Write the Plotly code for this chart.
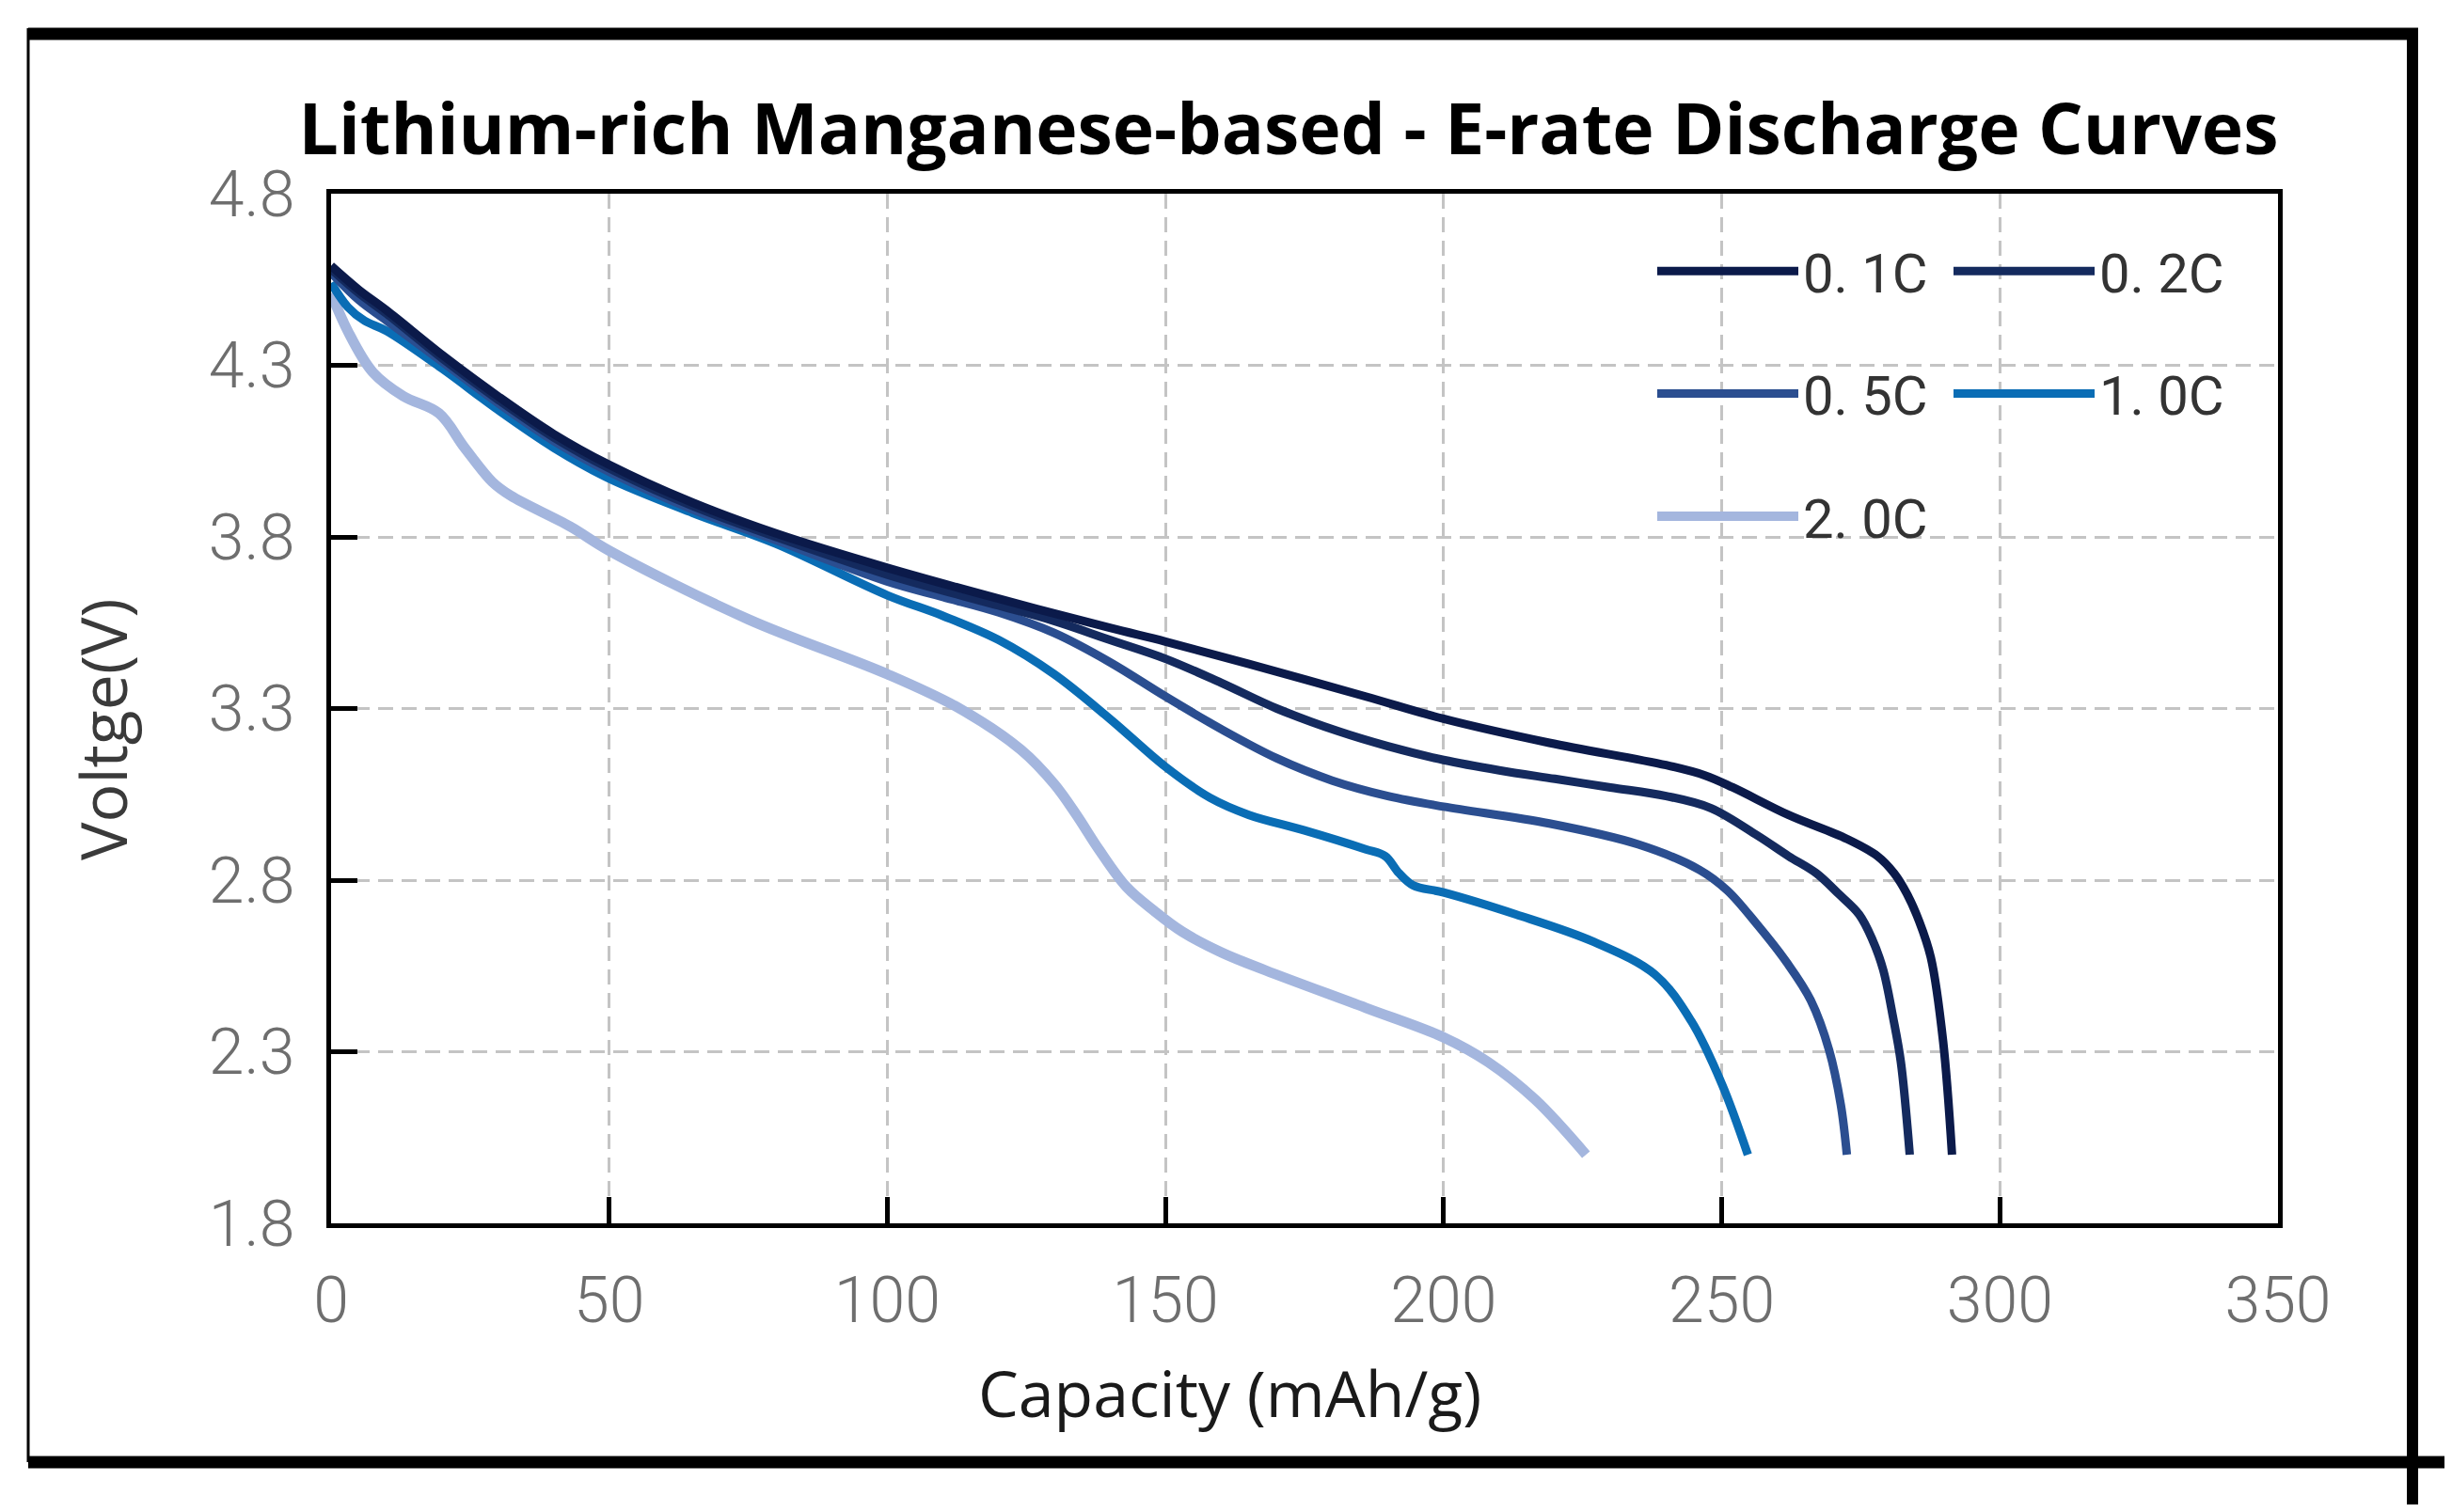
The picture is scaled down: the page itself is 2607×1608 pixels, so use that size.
import plotly.graph_objects as go

# ---------------- data ----------------
rate_labels = ["0. 1C", "0. 2C", "0. 5C", "1. 0C", "2. 0C"]
line_colors = ["#0b1a4a", "#142a5e", "#2b4e90", "#0a6db5", "#a4b6de"]

cap_01C = [0, 5, 10, 20, 30, 40, 50, 65, 80, 100, 120, 140, 150, 165, 186, 200, 219,
           240, 247, 252, 262, 272.5, 278, 281, 283.3, 285.5, 287.6, 289.8, 291.4]
volt_01C = [4.59, 4.52, 4.46, 4.33, 4.21, 4.10, 4.01, 3.90, 3.81, 3.71, 3.62, 3.535,
            3.495, 3.43, 3.335, 3.27, 3.20, 3.135, 3.105, 3.07, 2.99, 2.92, 2.87, 2.82,
            2.76, 2.68, 2.574, 2.33, 2.0]

cap_02C = [0, 5, 10, 20, 30, 40, 50, 65, 80, 100, 120, 130, 140, 150, 160, 170, 181,
           190, 200, 210, 220, 230, 240, 248, 256.4, 262, 267, 271, 274.7, 277, 279,
           280.8, 282.2, 283.8]
volt_02C = [4.58, 4.51, 4.45, 4.32, 4.20, 4.09, 4.00, 3.89, 3.80, 3.69, 3.60, 3.555,
            3.50, 3.445, 3.375, 3.30, 3.234, 3.19, 3.15, 3.12, 3.095, 3.07, 3.045, 3.01,
            2.93, 2.87, 2.82, 2.76, 2.70, 2.63, 2.54, 2.40, 2.27, 2.0]

cap_05C = [0, 5, 10, 20, 30, 40, 50, 65, 80, 100, 110, 120, 130, 140, 150, 160, 170,
           180, 190, 200, 219, 235, 246, 251, 256.4, 261.7, 266, 269.3, 271.4, 272.5]
volt_05C = [4.57, 4.49, 4.43, 4.31, 4.19, 4.08, 3.99, 3.88, 3.79, 3.67, 3.625, 3.58,
            3.52, 3.435, 3.335, 3.24, 3.155, 3.09, 3.045, 3.014, 2.965, 2.904, 2.83,
            2.77, 2.67, 2.56, 2.45, 2.305, 2.146, 2.0]

cap_10C = [0, 3, 6, 10, 20, 30, 40, 50, 65, 80, 100, 110, 120, 130, 140, 150, 158,
           165, 175, 186, 189.5, 192, 194.5, 200, 213, 227, 238, 244.5, 250, 254.7]
volt_10C = [4.54, 4.47, 4.43, 4.40, 4.29, 4.17, 4.06, 3.97, 3.87, 3.78, 3.63, 3.57,
            3.50, 3.40, 3.27, 3.13, 3.04, 2.99, 2.945, 2.89, 2.87, 2.82, 2.785, 2.764,
            2.70, 2.62, 2.525, 2.39, 2.207, 2.0]

cap_20C = [0, 3, 7.5, 13, 19.4, 24, 29, 32.3, 43, 50, 75, 100, 113, 124, 130, 134,
           138, 143, 148, 153, 160, 168, 186, 200, 208, 216.5, 225.6]
volt_20C = [4.51, 4.40, 4.28, 4.21, 4.16, 4.06, 3.96, 3.92, 3.83, 3.76, 3.56, 3.40,
            3.30, 3.18, 3.08, 2.99, 2.89, 2.78, 2.71, 2.65, 2.59, 2.537, 2.428, 2.342,
            2.27, 2.16, 2.0]

x_ticks = [0, 50, 100, 150, 200, 250, 300, 350]
y_ticks = [1.8, 2.3, 2.8, 3.3, 3.8, 4.3, 4.8]

title_text = "Lithium-rich Manganese-based - E-rate Discharge Curves"
x_title = "Capacity (mAh/g)"
y_title = "Voltge(V)"

# ---------------- geometry (page pixels) ----------------
PAGE_W, PAGE_H = 2607, 1608
OFF = 8                       # default body margin of the html page
FIG_W, FIG_H = PAGE_W - OFF, PAGE_H - 2 * OFF
L, R, T, B = 352, 2422, 206, 1301   # plot area in page px


def px(X):
    return (X - L) / (R - L)


def py(Y):
    return (B - Y) / (B - T)


series = [
    (cap_01C, volt_01C, 9, "legend"),
    (cap_02C, volt_02C, 9, "legend2"),
    (cap_05C, volt_05C, 9, "legend"),
    (cap_10C, volt_10C, 9, "legend2"),
    (cap_20C, volt_20C, 11, "legend"),
]

fig = go.Figure()
for i in reversed(range(len(series))):
    xs, ys, w, lg = series[i]
    fig.add_trace(go.Scatter(
        x=xs, y=ys, mode="lines", name=rate_labels[i],
        line=dict(color=line_colors[i], width=w, shape="spline", smoothing=1.0),
        legend=lg, legendgroup=rate_labels[i], legendrank=i + 1,
    ))

axis_common = dict(
    showline=True, linecolor="black", linewidth=5, mirror=True,
    ticks="inside", ticklen=28, tickwidth=5, tickcolor="black",
    showgrid=True, gridcolor="#c4c4c4", gridwidth=3, griddash="16px,9px",
    zeroline=False,
    tickfont=dict(family="Roboto", size=68, color="#6e6e6e", weight=300),
)

fig.update_xaxes(range=[0, 350], tickvals=x_ticks, ticktext=[str(v) for v in x_ticks],
                 ticklabelstandoff=18, **axis_common)
fig.update_yaxes(range=[1.8, 4.8], tickvals=y_ticks, ticktext=[f"{v:.1f}" for v in y_ticks],
                 ticklabelstandoff=20, **axis_common)

legend_common = dict(
    xanchor="left", yanchor="top", bgcolor="rgba(0,0,0,0)", borderwidth=0,
    font=dict(family="Roboto", size=58, color="#333333"),
    itemwidth=150, tracegroupgap=52, traceorder="grouped",
)

fig.update_layout(
    width=FIG_W, height=FIG_H, autosize=False,
    margin=dict(l=L - OFF, r=FIG_W + OFF - R, t=T - OFF, b=FIG_H + OFF - B, pad=0),
    paper_bgcolor="white", plot_bgcolor="white",
    title=dict(text=title_text, x=px(1370), xref="paper", xanchor="center",
               y=1 - (138 - OFF) / FIG_H, yanchor="middle",
               font=dict(family="Open Sans", size=75, color="black", weight="bold")),
    legend=dict(x=px(1757), y=py(244), **legend_common),
    legend2=dict(x=px(2072), y=py(244), **legend_common),
    showlegend=True,
)

# axis titles placed as text
fig.add_annotation(text=x_title, xref="paper", yref="paper", x=px(1307), y=py(1480),
                   xanchor="center", yanchor="middle", showarrow=False,
                   font=dict(family="Open Sans", size=68, color="#1a1a1a"))
fig.add_annotation(text=y_title, xref="paper", yref="paper", x=px(108), y=py(776),
                   xanchor="center", yanchor="middle", showarrow=False, textangle=-90,
                   font=dict(family="Open Sans", size=68, color="#3a3a3a"))

# outer frame around the figure
frame = [
    (30, 36, 2571, 36, 13),      # top
    (30, 30, 30, 1555, 3),       # left
    (30, 1555, 2607, 1555, 13),  # bottom
    (2565, 30, 2565, 1600, 12),  # right
]
for x0, y0, x1, y1, w in frame:
    fig.add_shape(type="line", xref="paper", yref="paper",
                  x0=px(x0), y0=py(y0), x1=px(x1), y1=py(y1),
                  line=dict(color="black", width=w), layer="above")

fig.write_html("out.html")
